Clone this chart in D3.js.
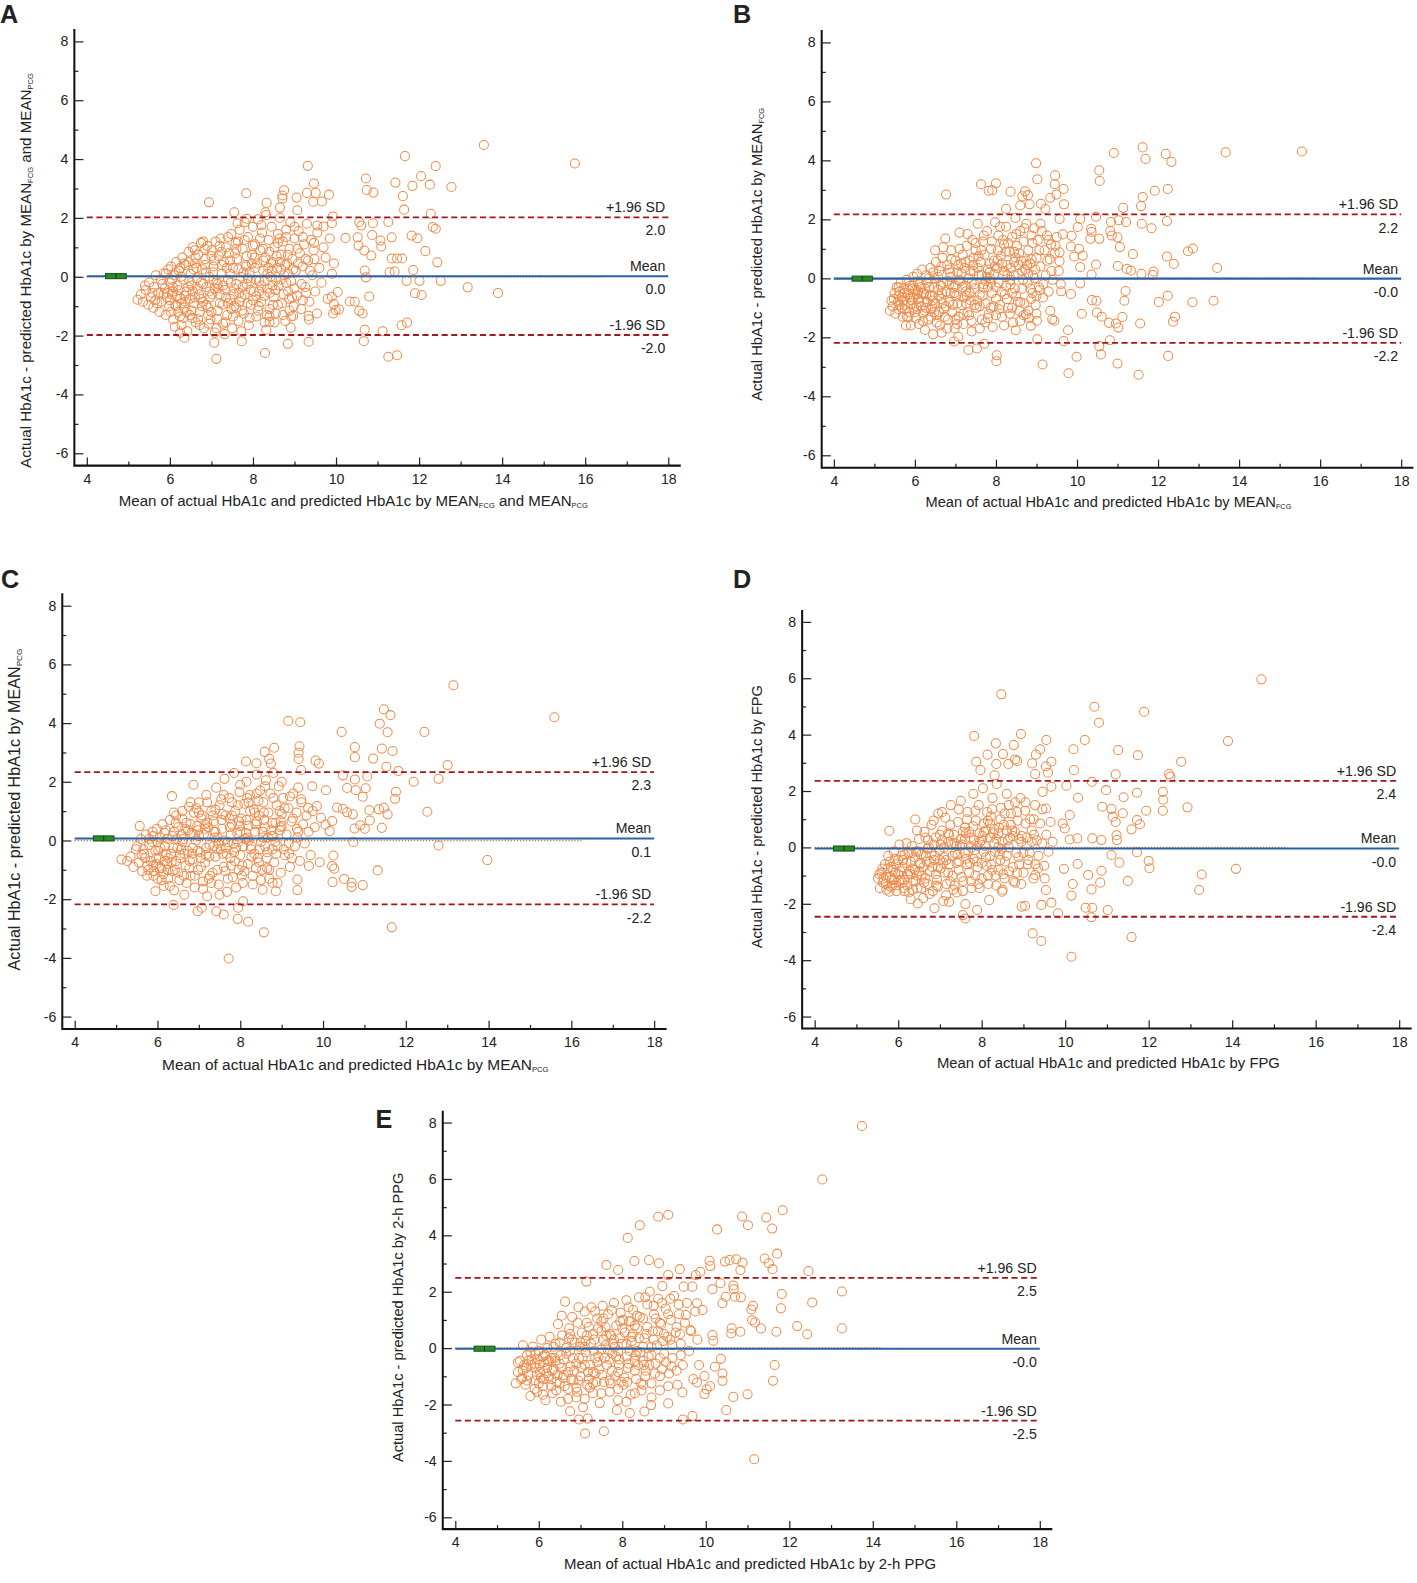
<!DOCTYPE html>
<html>
<head>
<meta charset="utf-8">
<script src="https://cdn.jsdelivr.net/npm/d3@7"></script>
<style>
  body { margin: 0; background: #fff; }
  text { font-family: 'Liberation Sans', Arial, sans-serif; fill: #222; }
</style>
</head>
<body>
<svg id="fig" width="1417" height="1583"></svg>
<script>
//shared axis ticks
const xTicks = [4, 6, 8, 10, 12, 14, 16, 18];
const xMinor = [5, 7, 9, 11, 13, 15, 17];
const yTicks = [-6, -4, -2, 0, 2, 4, 6, 8];
const yMinor = [-5, -3, -1, 1, 3, 5, 7];
const lineNames = ['+1.96 SD', 'Mean', '-1.96 SD'];

//panel A - MEAN FCG and MEAN PCG
const linesA = [2.02, 0.02, -1.98];
const labelsA = ['2.0', '0.0', '-2.0'];
const ciA = [-0.05, 0.09];
const ptsA = [
  [13.56,4.48],[11.66,4.10],[9.32,3.77],[12.40,3.76],[10.72,3.34],[12.05,3.42],[11.43,3.20],[11.84,3.09],[12.26,3.13],[12.78,3.05],
  [10.74,2.95],[10.90,2.86],[11.61,2.74],[9.47,3.17],[9.30,2.85],[9.51,2.85],[9.83,2.79],[9.45,2.55],[9.66,2.56],[8.75,2.94],
  [8.71,2.76],[8.71,2.66],[9.05,2.69],[7.84,2.84],[6.94,2.53],[11.64,2.28],[12.28,2.14],[12.33,1.69],[12.40,1.63],[9.07,2.26],
  [8.65,2.35],[8.33,2.51],[8.30,2.19],[7.55,2.19],[7.85,1.97],[7.63,1.82],[9.92,2.05],[9.90,1.82],[9.70,1.71],[9.55,1.74],
  [10.56,1.86],[10.61,1.74],[10.89,1.82],[11.26,1.86],[10.23,1.32],[10.52,1.34],[10.54,1.06],[10.87,1.42],[11.07,1.23],[11.09,1.03],
  [11.34,1.34],[11.82,1.40],[11.96,1.31],[12.15,0.87],[10.68,0.89],[10.85,0.72],[11.34,0.62],[11.47,0.62],[11.59,0.62],[12.44,0.49],
  [10.69,0.21],[10.72,-0.02],[11.29,0.15],[11.41,0.18],[11.86,0.23],[11.70,-0.14],[12.01,-0.14],[12.52,-0.14],[13.17,-0.36],[10.80,-0.67],
  [11.90,-0.56],[12.06,-0.62],[10.33,-0.84],[10.45,-0.85],[10.56,-1.16],[10.64,-1.25],[10.04,-0.52],[9.90,-0.68],[9.95,-0.93],[9.99,-1.13],
  [9.93,-1.25],[10.07,-1.11],[9.54,-1.25],[9.34,-1.33],[9.35,-1.45],[8.97,-1.33],[8.40,-1.34],[8.40,-1.54],[8.91,-1.73],[10.69,-1.80],
  [11.12,-1.85],[11.58,-1.65],[11.71,-1.56],[10.67,-2.19],[9.34,-2.21],[8.84,-2.28],[8.29,-2.59],[7.12,-2.79],[11.26,-2.72],[11.47,-2.67],
  [7.73,-2.19],[7.07,-2.24],[6.35,-2.07],[15.75,3.85],[13.9,-0.55],[6.25,-1.9],
  [5.22,-0.78],[5.3,-0.6],[5.35,-0.85],[5.42,-0.45],[5.48,-0.95],[5.5,-0.2],[5.55,-0.7],[5.6,-1.05],[5.62,-0.35],[5.66,0.05],
  [5.72,-0.55],[5.75,-1.2],[5.78,-0.1],[5.8,-0.85],[5.85,0.12],[5.88,-0.4],[5.9,-1.3],[5.93,-0.7],[5.96,0.25],[5.98,-1.0],[6.0,-0.2],
  [6.03,0.35],[6.05,-0.6],[6.08,-1.45],[6.1,0.05],[6.13,-0.95],[6.15,0.5],[6.18,-0.3],[6.2,-1.2],[6.22,0.2],[6.25,-0.75],
  [6.28,-1.65],[6.3,0.65],[6.33,-0.1],[6.35,-1.05],[6.38,0.4],[6.4,-0.5],[6.42,-1.85],[6.45,0.85],[6.48,-1.3],[6.5,0.1],
  [6.52,-0.3],[6.55,1.0],[6.58,-0.9],[6.6,0.45],[6.62,-1.55],[6.65,-0.05],[6.68,0.75],[6.7,-0.6],[6.72,-1.2],[6.75,1.15],
  [6.78,0.25],[6.8,-0.85],[6.82,-1.75],[6.85,0.6],[6.88,-0.35],[6.9,1.05],[6.92,-1.05],[6.95,0.0],[6.98,-1.45],[7.0,0.9],
  [7.02,-0.6],[7.05,0.35],[7.08,-1.9],[7.1,1.2],[7.12,-0.2],[7.15,-1.15],[7.18,0.7],[7.2,-0.9],[7.22,1.3],[7.25,0.1],
  [7.28,-1.6],[7.3,0.5],[7.32,-0.45],[7.35,1.0],[7.38,-1.3],[7.4,-0.1],[7.42,0.8],[7.45,-0.75],[7.48,1.45],[7.5,-1.75],
  [7.52,0.3],[7.55,-0.4],[7.58,1.15],[7.6,-1.05],[7.62,0.6],[7.65,-1.5],[7.68,1.6],[7.7,0.0],[7.72,-0.7],[7.75,0.95],
  [7.78,-1.25],[7.8,1.85],[7.82,0.4],[7.85,-0.25],[7.88,1.35],[7.9,-1.65],[7.92,0.15],[7.95,-0.95],[7.98,0.75],[8.0,1.7],
  [8.02,-0.5],[8.05,1.1],[8.08,-1.35],[8.1,0.45],[8.12,1.95],[8.15,-0.15],[8.18,0.9],[8.2,-0.85],[8.22,1.5],[8.25,0.2],
  [8.28,-1.55],[8.3,0.65],[8.32,2.1],[8.35,-0.4],[8.38,1.25],[8.4,-1.1],[8.42,0.0],[8.45,1.7],[8.48,0.5],[8.5,-0.7],
  [8.52,1.0],[8.55,-1.25],[8.58,0.3],[8.6,1.45],[8.62,-0.3],[8.65,2.0],[8.68,0.75],[8.7,-0.9],[8.72,1.2],[8.75,0.05],
  [8.78,-1.5],[8.8,1.6],[8.82,0.45],[8.85,-0.5],[8.88,0.95],[8.9,1.85],[8.92,-0.15],[8.95,0.6],[8.98,-1.0],[9.0,1.3],
  [9.03,0.2],[9.06,-0.65],[9.1,1.55],[9.13,0.8],[9.16,-1.1],[9.2,0.35],[9.23,1.1],[9.26,-0.35],[9.3,1.8],[9.33,0.55],
  [9.36,-0.85],[9.4,1.25],[9.43,0.05],[9.46,0.9],[9.5,-0.5],[9.55,1.5],[9.6,0.3],[9.65,-0.2],[9.7,1.0],[9.75,0.65],
  [9.8,-0.75],[9.85,1.3],[9.9,0.1],[9.95,0.45],
  [5.4,-0.3],[5.58,-0.55],[5.7,-0.9],[5.82,-0.25],[5.95,-0.55],[6.07,-0.35],[6.17,-0.65],[6.27,0.0],[6.37,-0.85],[6.47,-0.15],
  [6.57,0.25],[6.67,-0.4],[6.77,-1.0],[6.87,0.15],[6.97,-0.7],[7.07,0.55],[7.17,-0.4],[7.27,-0.95],[7.37,0.3],[7.47,-0.2],
  [7.57,0.8],[7.67,-0.55],[7.77,0.15],[7.87,-0.9],[7.97,0.45],[8.07,-0.1],[8.17,1.3],[8.27,-0.65],[8.37,0.3],[8.47,-0.3],
  [8.57,0.7],[8.67,-0.1],[8.77,0.4],[8.87,-0.75],[8.97,0.25],[9.07,0.95],[9.17,-0.25],[9.27,0.6],[9.37,0.2],[9.47,1.15],
  [6.12,-1.7],[6.32,-1.4],[6.52,-1.15],[6.72,-1.65],[6.92,-1.3],[7.12,-1.75],[7.32,-1.95],[7.52,-1.35],[7.72,-1.85],[7.92,-1.4],
  [8.12,-1.15],[8.32,-1.8],[8.52,-1.55],[8.72,-1.3],[8.92,-1.35],
  [6.6,0.9],[6.8,1.2],[7.0,0.7],[7.2,1.05],[7.4,1.35],[7.6,0.95],[7.8,1.25],[8.0,1.05],[8.2,1.75],[8.4,0.85],[8.6,1.15],[8.8,1.35],[9.0,1.7],[9.2,1.35],
  [5.9,0.1],[6.05,-0.1],[6.25,0.3],[6.45,0.5],[6.62,0.65],[6.85,0.4],[7.05,-0.1],[7.25,0.4],[7.45,0.55],[7.65,0.25],[7.85,0.7],[8.05,0.3],[8.25,0.55],[8.45,0.2],[8.65,0.5],[8.85,0.1],
  [6.0,-0.8],[6.2,-0.45],[6.4,-1.2],[6.6,-0.7],[6.8,-0.25],[7.0,-1.2],[7.2,-0.6],[7.4,-0.9],[7.6,-0.25],[7.8,-0.6],[8.0,-0.8],[8.2,-0.3],[8.4,-0.55],[8.6,-0.95],[8.8,-0.2],[9.0,-0.4],[9.2,-0.8],
  [5.65,-0.8],[5.85,-0.6],[6.15,-1.0],[6.35,-0.65],[6.55,-0.5],[6.75,-0.2],[6.95,-0.5],[7.15,-0.25],[7.35,-0.7],[7.55,-1.0],[7.75,-0.35],[7.95,-0.15],[8.15,-0.5],[8.35,0.1],[8.55,-0.1],
  [6.02,-1.2],[6.14,0.15],[6.24,-1.35],[6.34,0.45],[6.44,-0.35],[6.54,-1.4],[6.64,0.3],[6.74,-0.75],[6.84,0.95],[6.94,-1.6],
  [7.04,0.15],[7.14,-1.45],[7.24,0.85],[7.34,-1.55],[7.44,0.1],[7.54,-0.6],[7.64,1.2],[7.74,-1.15],[7.84,0.35],[7.94,-0.45],
  [8.04,0.65],[8.14,-1.0],[8.24,0.95],[8.34,-1.3],[8.44,0.45],[8.54,-0.45],[8.64,1.3],[8.74,-0.6],[8.84,0.75],[8.94,-0.7],
  [6.08,-0.5],[6.28,-0.9],[6.48,-0.75],[6.68,-1.45],[6.88,-0.95],[7.08,-0.4],[7.28,-0.3],[7.48,-1.1],[7.68,-0.85],[7.88,-0.05],
  [8.08,-0.65],[8.28,-0.15],[8.48,-0.95],[8.68,0.25],[8.88,-1.15],[9.08,0.45],[9.28,-0.55],[9.48,0.6]
];

//panel B - MEAN FCG
const linesB = [2.17, -0.01, -2.19];
const labelsB = ['2.2', '-0.0', '-2.2'];
const ciB = [-0.09, 0.07];
const ptsB = [
  [13.67,4.27],[11.62,4.44],[11.69,4.05],[10.91,4.25],[12.19,4.22],[12.33,3.95],[10.55,3.66],[10.56,3.30],[8.99,3.90],[9.02,3.36],
  [9.46,3.49],[9.45,3.19],[9.67,3.03],[7.63,3.19],[7.82,2.97],[7.91,2.99],[8.0,3.22],[8.36,2.94],[8.72,2.95],[8.79,2.82],
  [8.65,2.78],[6.77,2.84],[9.34,2.73],[9.49,2.84],[9.68,2.51],[9.11,2.53],[8.83,2.51],[8.60,2.47],[8.25,2.36],[9.22,2.35],
  [12.24,3.03],[11.92,2.97],[11.62,2.76],[11.58,2.45],[11.14,2.39],[10.47,2.09],[10.08,2.01],[9.57,2.01],[10.84,1.91],[11.03,1.97],
  [11.21,1.91],[12.22,1.94],[11.6,1.85],[11.84,1.70],[10.02,1.74],[10.35,1.68],[10.36,1.57],[10.82,1.60],[10.86,1.45],[11.0,1.39],
  [10.33,1.34],[10.55,1.34],[9.65,1.49],[9.87,1.44],[11.06,1.06],[9.85,1.08],[10.05,1.0],[10.14,0.77],[9.93,0.74],[9.57,0.88],
  [9.57,0.58],[11.38,0.82],[12.22,0.74],[12.39,0.49],[12.74,0.92],[12.86,1.01],[13.46,0.35],[11.01,0.42],[11.23,0.32],[11.33,0.26],
  [11.59,0.15],[11.89,0.23],[11.87,0.11],[10.47,0.47],[10.36,0.13],[10.08,0.38],[10.08,-0.17],[9.85,-0.53],[9.61,-0.44],[11.2,-0.43],
  [11.17,-0.76],[10.37,-0.74],[10.48,-0.76],[12.02,-0.8],[12.24,-0.59],[12.85,-0.81],[13.37,-0.76],[10.12,-1.20],[10.49,-1.16],[10.61,-1.30],
  [10.79,-1.51],[10.96,-1.53],[11.12,-1.31],[11.02,-1.67],[11.56,-1.53],[12.42,-1.30],[12.37,-1.47],[9.34,-1.10],[9.39,-1.39],[9.44,-1.44],
  [9.78,-1.76],[8.74,-1.22],[8.86,-1.61],[9.01,-1.44],[8.49,-1.76],[9.02,-2.07],[9.67,-2.13],[10.81,-2.1],[10.55,-2.3],[10.59,-2.58],
  [9.99,-2.66],[9.15,-2.92],[9.79,-3.22],[11.0,-2.89],[11.52,-3.27],[12.25,-2.63],[8.02,-2.61],[8.01,-2.81],[7.32,-2.43],[7.53,-2.38],
  [7.71,-2.22],[6.97,-2.14],[6.66,-1.84],[7.07,-1.98],[15.55,4.3],
  [5.38,-1.1],[5.42,-0.75],[5.45,-0.95],[5.5,-0.5],[5.52,-1.2],[5.55,-0.3],[5.58,-0.8],[5.6,-1.05],[5.62,-0.45],[5.65,-0.15],
  [5.68,-0.65],[5.7,-1.3],[5.72,-0.35],[5.75,-0.9],[5.78,-1.6],[5.8,-0.05],[5.83,-0.55],[5.86,-1.15],[5.88,-0.25],[5.9,-1.6],
  [5.93,-0.75],[5.96,0.05],[5.98,-1.0],[6.0,-0.4],[6.03,-1.35],[6.05,0.15],[6.08,-0.7],[6.1,-1.55],[6.12,-0.2],[6.15,-0.95],
  [6.18,0.3],[6.2,-1.2],[6.22,-0.5],[6.25,-1.75],[6.28,0.1],[6.3,-0.8],[6.33,-1.4],[6.35,-0.3],[6.38,0.35],[6.4,-1.05],
  [6.43,-0.6],[6.45,-1.9],[6.48,0.0],[6.5,-0.85],[6.52,0.55],[6.55,-1.25],[6.58,-0.4],[6.6,0.25],[6.62,-1.6],[6.65,-0.7],
  [6.68,0.7],[6.7,-0.15],[6.72,-1.05],[6.75,1.35],[6.78,-0.45],[6.8,0.45],[6.82,-1.4],[6.85,-0.8],[6.88,0.05],[6.9,0.95],
  [6.92,-1.15],[6.95,-0.3],[6.98,-1.7],[7.0,0.6],[7.02,-0.6],[7.05,0.2],[7.08,-1.3],[7.1,1.55],[7.12,-0.1],[7.15,-0.9],
  [7.18,0.8],[7.2,-1.55],[7.22,0.35],[7.25,-0.45],[7.28,1.1],[7.3,-1.15],[7.32,0.0],[7.35,0.6],[7.38,-0.75],[7.4,-1.8],
  [7.42,1.3],[7.45,0.25],[7.48,-0.35],[7.5,0.95],[7.52,-1.0],[7.55,1.85],[7.58,0.1],[7.6,-0.55],[7.62,0.55],[7.65,-1.4],
  [7.68,1.25],[7.7,-0.2],[7.72,0.8],[7.75,-0.85],[7.78,1.6],[7.8,0.3],[7.82,-1.2],[7.85,0.0],[7.88,1.0],[7.9,-0.5],
  [7.92,-1.65],[7.95,0.6],[7.98,1.9],[8.0,-0.3],[8.03,0.35],[8.06,1.45],[8.1,-0.9],[8.12,0.75],[8.15,-1.3],[8.18,0.1],
  [8.2,1.15],[8.22,-0.55],[8.25,1.75],[8.28,0.45],[8.3,-1.0],[8.33,0.9],[8.36,-0.2],[8.4,1.4],[8.42,-1.5],[8.45,0.55],
  [8.48,2.05],[8.5,-0.6],[8.52,1.1],[8.55,0.15],[8.58,-1.1],[8.6,1.6],[8.62,0.6],[8.65,-0.35],[8.68,1.25],[8.7,-0.85],
  [8.72,0.3],[8.75,1.85],[8.78,-0.15],[8.8,0.95],[8.82,-1.35],[8.85,0.5],[8.88,1.45],[8.9,-0.5],[8.92,0.1],[8.95,1.7],
  [8.98,-0.9],[9.0,0.7],[9.03,1.3],[9.06,-0.3],[9.1,0.4],[9.13,1.6],[9.16,-0.65],[9.2,0.95],[9.23,0.1],[9.26,1.45],
  [9.3,-0.45],[9.33,0.65],[9.36,1.15],[9.4,-0.05],[9.45,0.85],[9.5,1.4],[9.55,0.25],[9.6,-0.2],
  [5.48,-0.7],[5.6,-0.3],[5.72,-0.75],[5.85,-0.4],[5.97,-0.65],[6.07,-0.1],[6.17,-0.5],[6.27,-1.0],[6.37,-0.6],[6.47,-0.3],
  [6.57,0.05],[6.67,-0.5],[6.77,-0.95],[6.87,0.2],[6.97,-0.5],[7.07,0.45],[7.17,-0.3],[7.27,-0.85],[7.37,0.25],[7.47,-0.2],
  [7.57,0.75],[7.67,-0.6],[7.77,0.05],[7.87,-1.0],[7.97,0.4],[8.07,-0.15],[8.17,1.3],[8.27,-0.7],[8.37,0.35],[8.47,-0.35],
  [8.57,0.85],[8.67,-0.05],[8.77,0.45],[8.87,-0.7],[8.97,0.3],[9.07,0.95],[9.17,-0.2],[9.27,0.6],[9.37,0.25],[9.47,1.1],
  [5.8,-1.3],[6.0,-1.15],[6.2,-1.45],[6.4,-1.3],[6.6,-1.15],[6.8,-1.7],[7.0,-1.4],[7.2,-1.2],[7.4,-1.45],[7.6,-1.7],[7.8,-1.35],[8.0,-1.25],[8.2,-1.6],[8.4,-1.0],[8.6,-1.45],[8.8,-1.1],[9.0,-1.2],
  [6.5,0.95],[6.7,1.05],[6.9,0.65],[7.1,1.0],[7.3,1.5],[7.5,1.2],[7.7,1.45],[7.9,1.25],[8.1,1.75],[8.3,1.2],[8.5,1.5],[8.7,1.7],[8.9,1.2],[9.1,1.85],[9.3,1.3],
  [5.95,-0.25],[6.1,-0.8],[6.3,-0.15],[6.45,0.2],[6.65,0.4],[6.85,-0.2],[7.05,-0.85],[7.25,0.55],[7.45,0.7],[7.65,0.1],[7.85,0.5],[8.05,0.95],[8.25,-0.25],[8.45,0.9],[8.65,0.25],[8.85,-0.35],
  [5.6,-0.6],[5.75,-1.05],[5.9,-0.85],[6.05,-0.55],[6.25,-0.35],[6.42,-0.95],[6.6,-0.6],[6.8,-0.1],[7.0,-0.25],[7.2,-0.65],[7.4,-0.15],[7.6,-0.95],[7.8,-0.3],[8.0,-0.7],[8.2,0.25],[8.4,-0.5],[8.6,-0.8],[8.8,0.15],[9.0,-0.6],
  [7.15,0.15],[7.35,-0.5],[7.55,0.35],[7.75,-0.1],[7.95,0.15],[8.15,0.5],[8.35,-0.05],[8.55,0.45],[8.75,0.6],[8.95,0.0],
  [5.62,-0.9],[5.74,-0.5],[5.84,-1.3],[5.94,-0.35],[6.04,-0.95],[6.14,-0.3],[6.24,-1.1],[6.34,0.0],[6.44,-0.75],[6.54,-1.5],
  [6.64,-0.25],[6.74,-1.3],[6.84,0.3],[6.94,-0.9],[7.04,-1.55],[7.14,0.5],[7.24,-0.25],[7.34,-1.25],[7.44,0.45],[7.54,-0.75],
  [7.64,0.95],[7.74,-1.5],[7.84,0.2],[7.94,-0.95],[8.04,0.6],[8.14,-0.45],[8.24,0.9],[8.34,-1.2],[8.44,0.1],[8.54,-0.8],
  [5.68,-1.0],[5.88,-0.65],[6.08,-0.45],[6.28,-0.55],[6.48,-1.15],[6.68,-0.85],[6.88,-0.5],[7.08,-0.05],[7.28,-0.6],[7.48,-0.9],
  [7.68,-0.3],[7.88,-0.15],[8.08,-1.05],[8.28,0.1],[8.48,0.7],[8.68,-1.25],[8.88,0.65],[9.08,-0.4]
];

//panel C - MEAN PCG
const linesC = [2.33, 0.07, -2.18];
const labelsC = ['2.3', '0.1', '-2.2'];
const ciC = [-0.01, 0.15];
const ptsC = [
  [13.15,5.29],[15.59,4.2],[11.47,4.47],[11.63,4.27],[11.37,3.98],[11.56,3.69],[11.42,3.13],[11.68,3.05],[11.53,2.51],[11.82,2.37],
  [9.16,4.07],[9.45,4.03],[10.45,3.70],[12.45,3.70],[10.77,3.18],[10.77,2.84],[11.21,2.79],[13.01,2.57],[9.43,3.21],[9.41,2.99],
  [9.41,2.78],[8.82,3.16],[8.59,3.02],[8.70,2.78],[8.74,2.62],[9.82,2.72],[9.90,2.62],[8.39,2.63],[8.14,2.69],[9.47,2.40],
  [12.19,2.0],[12.79,2.1],[10.48,2.22],[10.77,2.08],[11.07,2.18],[10.58,1.79],[10.79,1.71],[10.96,1.49],[11.03,1.78],[11.76,1.66],
  [11.74,1.42],[12.52,0.98],[10.34,1.12],[10.48,1.08],[10.58,0.96],[10.72,0.89],[11.12,1.03],[11.35,1.06],[11.47,1.11],[11.56,0.89],
  [11.13,0.68],[10.90,0.52],[10.76,0.41],[11.01,0.40],[11.42,0.43],[12.79,-0.17],[13.97,-0.67],[10.73,-0.05],[11.32,-1.02],[10.23,-1.42],
  [10.51,-1.31],[10.69,-1.44],[10.69,-1.58],[10.96,-1.52],[11.66,-2.96],[10.25,-0.51],[10.22,-0.87],[10.27,-0.96],[9.92,-0.74],[9.66,-0.87],
  [9.38,-1.69],[9.38,-1.33],[8.86,-1.73],[8.54,-1.68],[8.78,-1.44],[8.57,-3.13],[8.19,-2.77],[7.94,-2.67],[7.72,-4.02],[7.6,-2.52],
  [7.42,-2.41],[7.95,-2.29],[8.07,-2.07],[6.97,-2.41],[7.07,-2.29],[6.39,-2.2],[5.95,-1.73],[6.35,1.51],[6.87,1.90],[5.57,0.49],
  [5.13,-0.65],[5.27,-0.7],[10.07,1.71],[9.74,1.85],[9.85,1.17],[9.64,1.11],[9.95,0.77],[10.22,0.66],[10.06,0.54],[10.16,0.32],
  [5.35,-0.55],[5.42,-0.9],[5.48,-0.3],[5.55,-0.75],[5.6,0.05],[5.63,-1.05],[5.68,-0.45],[5.72,0.2],[5.75,-1.2],[5.8,-0.15],
  [5.84,-0.7],[5.88,0.3],[5.92,-1.05],[5.95,-0.35],[5.98,0.4],[6.0,-1.3],[6.03,-0.6],[6.06,0.1],[6.1,-0.95],[6.12,0.55],
  [6.15,-1.55],[6.18,-0.2],[6.2,0.35],[6.23,-0.8],[6.26,-1.3],[6.3,0.7],[6.33,-0.45],[6.36,0.15],[6.4,-1.7],[6.42,-1.0],
  [6.45,0.85],[6.48,-0.25],[6.5,0.45],[6.53,-1.35],[6.56,-0.6],[6.6,1.0],[6.62,0.05],[6.65,-1.85],[6.68,-0.85],[6.7,0.6],
  [6.73,-0.35],[6.76,1.15],[6.8,-1.2],[6.82,0.25],[6.85,-0.65],[6.88,0.95],[6.9,-1.6],[6.93,0.0],[6.96,0.5],[6.98,-1.0],
  [7.0,1.3],[7.03,-0.4],[7.06,0.75],[7.1,-1.4],[7.12,0.2],[7.15,-0.75],[7.18,1.55],[7.2,-1.9],[7.23,0.45],[7.26,-0.15],
  [7.3,1.0],[7.33,-1.1],[7.36,0.65],[7.4,-0.55],[7.42,1.8],[7.45,0.1],[7.48,-1.5],[7.5,1.2],[7.53,-0.3],[7.56,0.4],
  [7.6,-0.9],[7.62,2.1],[7.65,0.85],[7.68,-1.75],[7.7,-0.05],[7.73,1.45],[7.76,-0.6],[7.8,0.55],[7.82,-1.25],[7.85,2.3],
  [7.88,1.0],[7.9,-0.25],[7.93,0.25],[7.96,-1.0],[7.98,1.65],[8.0,-0.5],[8.03,0.75],[8.06,-1.45],[8.1,1.25],[8.12,0.05],
  [8.15,2.0],[8.18,-0.8],[8.2,0.5],[8.23,1.55],[8.26,-0.2],[8.3,-1.2],[8.33,1.05],[8.36,0.3],[8.4,2.25],[8.42,-0.6],
  [8.45,0.85],[8.48,1.7],[8.5,-0.05],[8.53,-1.0],[8.56,1.3],[8.6,0.45],[8.62,2.05],[8.65,-0.4],[8.68,0.95],[8.7,-1.3],
  [8.73,1.6],[8.76,0.15],[8.8,2.3],[8.82,-0.75],[8.85,0.6],[8.88,1.2],[8.9,-0.2],[8.93,1.85],[8.96,0.35],[8.98,-1.1],
  [9.0,0.9],[9.04,1.45],[9.08,-0.5],[9.12,0.2],[9.16,1.1],[9.2,-0.9],[9.24,0.65],[9.28,1.6],[9.32,-0.2],[9.36,0.95],
  [9.4,0.3],[9.44,-0.7],[9.48,1.3],[9.52,0.55],[9.56,-0.1],[9.6,0.85],[9.65,0.3],[9.7,-0.5],[9.75,1.0],[9.8,0.45],
  [5.5,-0.2],[5.62,-0.5],[5.75,-0.85],[5.87,-0.05],[5.97,-0.6],[6.07,-0.25],[6.17,0.25],[6.27,-0.6],[6.37,-1.05],[6.47,0.05],
  [6.57,-0.3],[6.67,0.4],[6.77,-0.95],[6.87,0.2],[6.97,-0.35],[7.07,0.85],[7.17,-0.5],[7.27,-1.2],[7.37,0.3],[7.47,-0.1],
  [7.57,0.9],[7.67,-0.45],[7.77,0.2],[7.87,-0.7],[7.97,0.65],[8.07,-0.2],[8.17,1.45],[8.27,-0.55],[8.37,0.55],[8.47,-0.3],
  [8.57,0.95],[8.67,0.1],[8.77,0.6],[8.87,-0.45],[8.97,0.45],[9.07,1.1],[9.17,-0.1],[9.27,0.75],[9.37,0.4],[9.47,1.4],
  [5.9,-1.2],[6.1,-1.35],[6.3,-1.55],[6.5,-1.1],[6.7,-1.45],[6.9,-1.2],[7.1,-1.65],[7.3,-1.45],[7.5,-1.85],[7.7,-1.3],[7.9,-1.6],[8.1,-1.05],[8.3,-1.5],[8.5,-1.35],[8.7,-1.0],[8.9,-1.45],
  [6.4,0.95],[6.6,0.75],[6.8,1.3],[7.0,0.95],[7.2,1.3],[7.4,1.05],[7.6,1.55],[7.8,1.3],[8.0,1.9],[8.2,1.3],[8.4,1.6],[8.6,1.85],[8.8,1.45],[9.0,2.0],[9.2,1.5],[9.4,1.8],
  [5.8,0.05],[6.0,-0.05],[6.2,-0.45],[6.4,0.3],[6.6,-0.05],[6.8,0.55],[7.0,0.15],[7.2,0.6],[7.4,0.3],[7.6,0.0],[7.8,0.85],[8.0,0.3],[8.2,0.0],[8.4,0.65],[8.6,-0.2],[8.8,0.15],[9.0,0.5],
  [5.7,-0.6],[5.9,-0.85],[6.05,-0.95],[6.25,-1.0],[6.45,-0.7],[6.65,-0.45],[6.85,-0.25],[7.05,-0.9],[7.25,-0.55],[7.45,-1.0],[7.65,-0.25],[7.85,-0.4],[8.05,-0.85],[8.25,-0.3],[8.45,-0.75],[8.65,-0.95],[8.85,-0.05],[9.05,-0.3],[9.25,-0.6],
  [7.15,0.4],[7.35,-0.2],[7.55,0.7],[7.75,0.45],[7.95,-0.05],[8.15,0.7],[8.35,0.95],[8.55,0.1],[8.75,0.35],[8.95,1.0],
  [5.66,-0.3],[5.78,-1.0],[5.9,0.15],[6.02,-0.35],[6.14,-1.15],[6.24,0.05],[6.34,-0.75],[6.44,0.6],[6.54,-0.5],[6.64,-1.2],
  [6.74,0.35],[6.84,-0.45],[6.94,1.1],[7.04,-0.6],[7.14,0.55],[7.24,-1.3],[7.34,0.85],[7.44,-0.3],[7.54,1.4],[7.64,-1.05],
  [7.74,0.75],[7.84,-0.1],[7.94,1.2],[8.04,-1.2],[8.14,0.25],[8.24,1.0],[8.34,-0.45],[8.44,1.35],[8.54,0.3],[8.64,-0.6],
  [5.98,-0.8],[6.18,-0.7],[6.38,-0.25],[6.58,0.2],[6.78,-0.7],[6.98,0.35],[7.18,-0.25],[7.38,0.1],[7.58,-0.45],[7.78,-0.85],
  [7.98,0.5],[8.18,0.1],[8.38,-0.95],[8.58,0.7],[8.78,-0.3],[8.98,0.65],[9.18,-0.45],[9.38,0.1]
];

//panel D - FPG
const linesD = [2.36, -0.04, -2.46];
const labelsD = ['2.4', '-0.0', '-2.4'];
const ciD = [-0.13, 0.05];
const ptsD = [
  [14.70,5.96],[8.47,5.43],[10.70,4.99],[11.89,4.81],[10.81,4.42],[13.90,3.77],[7.82,3.95],[8.94,4.02],[8.34,3.69],[8.77,3.63],
  [9.55,3.81],[10.47,3.81],[10.20,3.48],[11.27,3.45],[11.74,3.27],[12.78,3.04],[8.51,3.31],[8.14,3.29],[9.30,3.29],[9.40,3.48],
  [8.80,3.12],[8.85,3.07],[7.87,3.04],[8.35,2.96],[8.64,2.96],[9.67,3.04],[9.21,2.98],[9.54,2.88],[7.97,2.74],[9.59,2.65],
  [10.21,2.74],[11.21,2.59],[12.49,2.60],[12.52,2.51],[8.31,2.56],[9.28,2.60],[10.64,2.33],[10.03,2.19],[9.67,2.15],[10.98,2.03],
  [12.34,1.97],[10.31,1.76],[11.40,1.78],[11.72,1.94],[12.35,1.69],[12.93,1.42],[11.94,1.30],[12.34,1.30],[10.89,1.44],[11.11,1.36],
  [11.38,1.21],[11.14,1.09],[11.21,0.90],[11.72,0.97],[11.79,0.82],[11.59,0.64],[11.23,0.43],[11.24,0.26],[10.87,0.26],[10.65,0.32],
  [10.29,0.32],[10.11,0.28],[9.94,0.85],[9.99,0.67],[10.11,1.15],[9.46,1.97],[9.54,1.38],[11.72,-0.17],[11.11,-0.27],[11.30,-0.54],
  [12.0,-0.48],[12.02,-0.74],[14.09,-0.76],[13.27,-0.96],[13.21,-1.51],[10.87,-0.83],[10.55,-0.98],[10.30,-0.59],[9.97,-0.76],[10.18,-1.30],
  [10.15,-1.71],[10.63,-1.49],[10.84,-1.25],[11.50,-1.19],[10.49,-2.14],[10.65,-2.14],[10.63,-2.48],[11.02,-2.22],[11.59,-3.18],[10.15,-3.88],
  [9.43,-3.32],[9.22,-3.05],[9.43,-2.04],[9.67,-1.96],[9.83,-2.34],[8.96,-2.10],[9.04,-2.08],[9.54,-1.51],[9.51,-1.10],[9.28,-0.98],
  [8.80,-1.25],[8.49,-1.57],[8.18,-1.87],[7.89,-2.22],[7.61,-2.52],[7.55,-2.40],[7.61,-2.01],[7.22,-1.93],[6.87,-2.16],[6.47,-1.99],
  [6.30,-1.84],[5.79,0.59],[6.41,0.99],[5.79,-1.57],
  [5.52,-1.1],[5.56,-1.45],[5.6,-0.9],[5.64,-1.25],[5.68,-0.6],[5.72,-1.5],[5.76,-0.3],[5.8,-1.05],[5.83,-0.7],[5.86,-1.35],
  [5.9,-0.15],[5.93,-0.9],[5.96,-1.55],[6.0,-0.45],[6.03,0.1],[6.06,-1.15],[6.1,-0.7],[6.13,-1.45],[6.16,-0.25],[6.2,0.15],
  [6.23,-0.95],[6.26,-1.6],[6.3,-0.5],[6.33,0.05],[6.36,-1.2],[6.4,-0.8],[6.43,-0.15],[6.46,-1.45],[6.5,0.3],[6.53,-0.6],
  [6.56,-1.0],[6.6,-1.8],[6.63,0.55],[6.66,-0.3],[6.7,-1.3],[6.73,0.0],[6.76,-0.85],[6.8,0.8],[6.83,-1.55],[6.86,-0.45],
  [6.9,0.35],[6.93,-1.15],[6.96,1.2],[6.99,-0.1],[7.02,-0.75],[7.05,0.6],[7.08,-1.9],[7.1,-0.35],[7.13,1.05],[7.16,-1.3],
  [7.2,0.2],[7.23,-0.6],[7.26,1.5],[7.3,-1.0],[7.33,0.45],[7.36,-0.2],[7.4,-1.6],[7.43,0.9],[7.46,-0.5],[7.5,1.65],
  [7.53,0.1],[7.56,-1.2],[7.6,0.7],[7.63,-0.4],[7.66,1.25],[7.7,-0.9],[7.73,0.35],[7.76,-1.45],[7.8,1.9],[7.83,-0.1],
  [7.86,0.95],[7.9,-0.7],[7.93,1.5],[7.96,0.2],[8.0,-1.1],[8.03,2.1],[8.06,0.55],[8.1,-0.35],[8.13,1.25],[8.16,-1.3],
  [8.2,0.85],[8.23,-0.6],[8.26,1.75],[8.3,0.15],[8.33,-1.0],[8.36,2.25],[8.4,0.5],[8.43,-0.25],[8.46,1.4],[8.5,-1.5],
  [8.53,0.8],[8.56,-0.5],[8.6,1.9],[8.63,0.25],[8.66,-0.85],[8.7,1.2],[8.73,0.6],[8.76,-1.2],[8.8,1.6],[8.83,-0.2],
  [8.86,0.95],[8.9,-0.6],[8.93,1.75],[8.96,0.4],[9.0,-0.9],[9.04,1.3],[9.08,0.05],[9.12,-0.45],[9.16,1.0],[9.2,0.6],
  [9.24,-1.1],[9.28,1.5],[9.32,0.25],[9.36,-0.3],[9.4,0.85],[9.45,1.35],[9.5,-0.65],[9.55,0.45],[9.6,-0.15],[9.65,0.9],
  [9.7,0.2],
  [5.55,-0.95],[5.65,-1.1],[5.75,-0.75],[5.85,-1.15],[5.95,-0.6],[6.05,-0.85],[6.15,-1.15],[6.25,-0.2],[6.35,-0.75],[6.45,-1.0],
  [6.55,-0.25],[6.65,-1.1],[6.75,-0.5],[6.85,0.1],[6.95,-0.7],[7.05,0.25],[7.15,-0.45],[7.25,-1.2],[7.35,0.15],[7.45,-0.8],
  [7.55,0.55],[7.65,-0.6],[7.75,0.0],[7.85,-1.0],[7.95,0.5],[8.05,-0.15],[8.15,0.95],[8.25,-0.8],[8.35,0.3],[8.45,-0.45],
  [8.55,1.2],[8.65,0.0],[8.75,0.4],[8.85,-0.9],[8.95,0.2],[9.05,0.85],[9.15,-0.2],[9.25,0.45],[9.35,-0.75],[9.45,0.15],
  [5.95,-1.35],[6.15,-1.55],[6.35,-1.5],[6.55,-1.45],[6.75,-1.65],[6.95,-1.4],[7.15,-1.7],[7.35,-1.35],[7.55,-1.55],[7.75,-1.2],[7.95,-1.45],[8.15,-1.0],[8.35,-1.35],[8.55,-1.1],[8.75,-0.7],[8.95,-1.3],
  [6.45,0.6],[6.65,0.35],[6.85,0.95],[7.05,1.25],[7.25,0.8],[7.45,1.35],[7.65,1.0],[7.85,1.3],[8.05,0.85],[8.25,1.35],[8.45,1.0],[8.65,1.5],[8.85,1.25],[9.05,1.6],[9.25,1.0],
  [5.8,-0.5],[6.0,-0.95],[6.2,-0.55],[6.4,-0.35],[6.6,-0.7],[6.8,-0.2],[7.0,-0.45],[7.2,-0.9],[7.4,-0.55],[7.6,-0.2],[7.8,-0.4],[8.0,0.25],[8.2,-0.3],[8.4,0.0],[8.6,-0.3],[8.8,0.55],[9.0,-0.2],[9.2,0.2],
  [5.7,-1.3],[5.9,-1.15],[6.1,-1.25],[6.3,-0.95],[6.5,-0.85],[6.7,-0.05],[6.9,-0.95],[7.1,0.0],[7.3,-0.3],[7.5,0.3],[7.7,0.55],[7.9,0.05],[8.1,0.6],[8.3,0.65],[8.5,0.2],[8.7,0.8],[8.9,0.3],[9.1,-0.6],
  [7.0,0.45],[7.2,0.5],[7.4,0.05],[7.6,0.3],[7.8,0.75],[8.0,-0.55],[8.2,0.35],[8.4,-0.8],[8.6,0.6],
  [5.62,-0.75],[5.72,-1.05],[5.82,-1.4],[5.92,-0.4],[6.02,-1.2],[6.12,-0.45],[6.22,-1.35],[6.32,-0.2],[6.42,-1.2],[6.52,-0.55],
  [6.62,-1.25],[6.72,0.25],[6.82,-0.7],[6.92,-1.35],[7.02,0.1],[7.12,-0.9],[7.22,0.45],[7.32,-1.5],[7.42,-0.25],[7.52,-1.05],
  [7.62,0.5],[7.72,-0.55],[7.82,0.25],[7.92,-1.3],[8.02,0.4],[8.12,-0.65],[8.22,1.1],[8.32,-0.15],[8.42,0.7],[8.52,-0.95],
  [5.88,-0.8],[6.08,-0.3],[6.28,-0.85],[6.48,-0.15],[6.68,-0.5],[6.88,-0.3],[7.08,-0.55],[7.28,0.1],[7.48,0.05],[7.68,-0.15],
  [7.88,-0.5],[8.08,0.05],[8.28,0.5],[8.48,-0.05],[8.68,0.35],[8.88,-0.35],[9.08,0.35],[9.28,-0.6]
];

//panel E - 2-h PPG
const linesE = [2.49, -0.02, -2.57];
const labelsE = ['2.5', '-0.0', '-2.5'];
const ciE = [-0.11, 0.07];
const ptsE = [
  [13.74,7.88],[12.79,5.98],[11.84,4.89],[11.45,4.63],[10.87,4.67],[11.01,4.36],[11.59,4.24],[10.27,4.21],[9.10,4.73],[8.86,4.66],
  [8.42,4.36],[8.13,3.91],[11.71,3.35],[11.41,3.18],[11.51,3.01],[11.60,2.80],[10.88,3.03],[10.83,2.77],[10.73,3.15],[10.57,3.12],
  [10.46,3.07],[10.09,3.10],[10.11,2.91],[12.46,2.73],[13.26,2.01],[12.55,1.62],[11.82,1.92],[11.80,1.41],[11.13,1.50],[11.09,1.37],
  [11.11,0.99],[11.18,0.91],[11.32,0.70],[10.83,0.58],[10.62,0.70],[10.61,0.52],[11.69,0.58],[12.19,0.78],[12.43,0.49],[13.26,0.70],
  [11.65,-0.60],[11.61,-1.16],[11.0,-1.64],[10.66,-1.73],[10.49,-2.20],[11.16,-3.94],[9.68,-2.41],[9.45,-2.53],[9.97,-1.63],[10.02,-1.46],
  [10.10,-1.35],[10.40,-1.16],[10.40,-0.90],[10.22,-0.66],[10.36,-0.38],[9.84,-0.60],[9.97,-0.99],[9.79,-1.22],[9.44,-1.57],[9.10,-1.96],
  [8.69,-2.02],[8.53,-2.25],[8.18,-2.30],[7.87,-2.20],[7.56,-2.95],[7.11,-3.03],[7.17,-2.50],[6.75,-2.24],[6.96,-2.53],[10.16,0.46],
  [10.18,0.26],[10.35,2.30],[10.40,1.59],[10.16,2.09],[10.48,1.82],[10.70,1.82],[10.84,1.80],[10.67,2.09],[10.66,2.22],[9.87,2.71],
  [9.76,2.59],[9.38,2.80],[9.68,2.18],[9.47,2.18],[9.10,2.59],[8.88,3.01],[8.64,3.12],[8.29,3.09],[7.90,2.77],[7.62,2.95],
  [7.14,2.36],[9.79,1.59],[9.92,1.35],[9.52,1.17],[9.63,0.64],
  [5.45,-1.25],[5.5,-0.85],[5.55,-0.45],[5.58,-1.1],[5.62,0.1],[5.65,-0.6],[5.68,-1.3],[5.72,-0.25],[5.75,-0.95],[5.8,-1.7],
  [5.83,-0.4],[5.86,0.05],[5.9,-1.15],[5.93,-0.7],[5.96,-1.55],[6.0,-0.1],[6.03,-0.85],[6.06,0.3],[6.1,-1.35],[6.13,-0.5],
  [6.16,-1.85],[6.2,0.0],[6.23,-1.0],[6.26,0.4],[6.3,-0.35],[6.33,-1.6],[6.36,-0.75],[6.4,0.15],[6.43,-1.2],[6.46,0.85],
  [6.5,-0.55],[6.53,-1.9],[6.56,0.45],[6.6,-0.95],[6.63,1.65],[6.66,-0.2],[6.7,-1.45],[6.73,0.7],[6.76,-0.65],[6.8,1.1],
  [6.83,-1.15],[6.86,0.2],[6.9,-1.75],[6.93,0.9],[6.96,-0.35],[7.0,-1.0],[7.03,0.55],[7.06,-2.1],[7.1,1.3],[7.13,-0.15],
  [7.16,-1.3],[7.2,0.75],[7.23,-0.6],[7.26,1.45],[7.3,-1.6],[7.33,0.3],[7.36,-0.9],[7.4,1.05],[7.43,-0.3],[7.46,-1.95],
  [7.5,0.6],[7.53,1.5],[7.56,-1.2],[7.6,0.1],[7.63,-0.6],[7.66,1.2],[7.7,-1.55],[7.73,0.45],[7.76,-0.2],[7.8,1.6],
  [7.83,-1.0],[7.86,0.8],[7.9,-1.85],[7.93,-0.4],[7.96,1.25],[8.0,0.15],[8.03,-1.3],[8.06,0.55],[8.1,1.7],[8.13,-0.7],
  [8.16,0.95],[8.2,-1.65],[8.23,0.25],[8.26,1.35],[8.3,-0.45],[8.33,-1.1],[8.36,0.7],[8.4,1.8],[8.43,-0.15],[8.46,-1.5],
  [8.5,1.05],[8.53,0.35],[8.56,-0.8],[8.6,1.55],[8.63,-0.3],[8.66,2.0],[8.7,-1.25],[8.73,0.6],[8.76,1.2],[8.8,-0.55],
  [8.83,0.1],[8.86,1.75],[8.9,-1.0],[8.93,0.85],[8.96,2.2],[9.0,-0.2],[9.04,1.4],[9.08,0.4],[9.12,-0.9],[9.16,1.0],
  [9.2,-0.35],[9.24,1.85],[9.28,0.55],[9.32,-1.3],[9.36,1.2],[9.4,0.15],[9.45,-0.6],[9.5,0.9],[9.55,1.6],[9.6,-0.1],
  [9.65,0.6],[9.7,-1.1],[9.75,1.3],[9.8,0.3],
  [5.5,-0.5],[5.6,-1.05],[5.7,-0.7],[5.8,-0.15],[5.9,-0.55],[6.0,-1.25],[6.1,-0.3],[6.2,-0.7],[6.3,-1.1],[6.4,-0.45],
  [6.5,0.2],[6.6,-0.4],[6.7,-0.85],[6.8,0.3],[6.9,-0.55],[7.0,0.2],[7.1,-0.6],[7.2,-1.1],[7.3,0.5],[7.4,-0.5],
  [7.5,-0.05],[7.6,0.75],[7.7,-0.4],[7.8,0.3],[7.9,-0.85],[8.0,0.7],[8.1,-0.3],[8.2,0.95],[8.3,-0.8],[8.4,0.35],
  [8.5,-0.45],[8.6,0.75],[8.7,0.05],[8.8,1.05],[8.9,-0.35],[9.0,0.5],[9.1,1.2],[9.2,0.1],[9.3,0.75],[9.4,-0.25],
  [5.9,-1.45],[6.1,-1.65],[6.3,-1.35],[6.5,-1.25],[6.7,-1.8],[6.9,-1.4],[7.1,-1.8],[7.3,-1.25],[7.5,-1.6],[7.7,-1.15],[7.9,-1.45],[8.1,-1.9],[8.3,-1.6],[8.5,-1.3],[8.7,-1.75],[8.9,-1.5],[9.1,-1.35],[9.3,-0.8],
  [6.55,1.15],[6.75,0.5],[6.95,1.45],[7.15,0.9],[7.35,1.3],[7.55,1.05],[7.75,1.35],[7.95,0.95],[8.15,1.45],[8.35,1.15],[8.55,1.8],[8.75,1.5],[8.95,1.6],[9.15,1.75],[9.35,1.55],
  [5.75,-0.45],[5.95,-0.95],[6.15,-0.25],[6.35,0.05],[6.55,-0.7],[6.75,-0.1],[6.95,-1.15],[7.15,0.45],[7.35,-0.35],[7.55,0.3],[7.75,-0.8],[7.95,0.35],[8.15,-0.55],[8.35,-0.1],[8.55,-1.0],[8.75,0.3],[8.95,-0.75],[9.15,0.3],
  [6.05,-1.05],[6.25,-0.45],[6.45,-0.95],[6.65,0.0],[6.85,-0.8],[7.05,-0.35],[7.25,0.15],[7.45,-0.75],[7.65,-0.05],[7.85,-0.3],[8.05,-1.05],[8.25,0.5],[8.45,-1.25],[8.65,-0.6],[8.85,0.6],[9.05,-0.5],
  [7.1,0.05],[7.3,-0.85],[7.5,0.95],[7.7,0.5],[7.9,-0.1],[8.1,0.15],[8.3,0.8],[8.5,0.05],[8.7,-0.25],[8.9,0.9],
  [5.62,-0.8],[5.72,-1.15],[5.82,-0.6],[5.92,-0.2],[6.02,-0.6],[6.12,-1.1],[6.22,-0.45],[6.32,-0.8],[6.42,-1.5],[6.52,-0.25],
  [6.62,-1.35],[6.72,0.35],[6.82,-0.35],[6.92,-1.55],[7.02,-0.7],[7.12,0.25],[7.22,-1.4],[7.32,-0.1],[7.42,0.7],[7.52,-0.95],
  [7.62,0.45],[7.72,-1.25],[7.82,0.05],[7.92,-0.6],[8.02,1.0],[8.12,-1.2],[8.22,0.4],[8.32,-0.25],[8.42,1.1],[8.52,-0.6],
  [5.98,-0.4],[6.18,-0.9],[6.38,-0.35],[6.58,-1.05],[6.78,-1.1],[6.98,0.05],[7.18,-0.85],[7.38,-1.2],[7.58,-0.35],[7.78,0.15],
  [7.98,-1.2],[8.18,-0.1],[8.38,-0.6],[8.58,0.5],[8.78,-0.9],[8.98,0.25],[9.18,-0.65],[9.38,0.5]
];

//titles, {..} marks the small subscript
const panels = [
  { letter: 'A', pts: ptsA, lines: linesA, labels: labelsA, ci: ciA, zeroEnd: 16.45,
    yTitle: 'Actual HbA1c - predicted HbA1c by MEAN{FCG} and MEAN{PCG}',
    xTitle: 'Mean of actual HbA1c and predicted HbA1c by MEAN{FCG} and MEAN{PCG}',
    x4: 86, x18: 662, y8: 41, ym6: 449, letterPos: [0, 23], yTitlePos: [28, 268], xTitlePos: [350, 503],
    xSize: 14.9, ySize: 15 },
  { letter: 'B', pts: ptsB, lines: linesB, labels: labelsB, ci: ciB, zeroEnd: 15.9,
    yTitle: 'Actual HbA1c - predicted HbA1c by MEAN{FCG}',
    xTitle: 'Mean of actual HbA1c and predicted HbA1c by MEAN{FCG}',
    x4: 826, x18: 1388, y8: 42, ym6: 451, letterPos: [726, 23], yTitlePos: [752, 252], xTitlePos: [1098, 504],
    xSize: 14.5, ySize: 14.6 },
  { letter: 'C', pts: ptsC, lines: linesC, labels: labelsC, ci: ciC, zeroEnd: 16.25,
    yTitle: 'Actual HbA1c - predicted HbA1c by MEAN{PCG}',
    xTitle: 'Mean of actual HbA1c and predicted HbA1c by MEAN{PCG}',
    x4: 74, x18: 648, y8: 600, ym6: 1007, letterPos: [1, 582], yTitlePos: [17, 802], xTitlePos: [352, 1062],
    xSize: 15.3, ySize: 16 },
  { letter: 'D', pts: ptsD, lines: linesD, labels: labelsD, ci: ciD, zeroEnd: 15.3,
    yTitle: 'Actual HbA1c - predicted HbA1c by FPG',
    xTitle: 'Mean of actual HbA1c and predicted HbA1c by FPG',
    x4: 807, x18: 1386, y8: 616, ym6: 1007, letterPos: [726, 582], yTitlePos: [752, 809], xTitlePos: [1098, 1060],
    xSize: 14.7, ySize: 14.5 },
  { letter: 'E', pts: ptsE, lines: linesE, labels: labelsE, ci: ciE, zeroEnd: 14.2,
    yTitle: 'Actual HbA1c - predicted HbA1c by 2-h PPG',
    xTitle: 'Mean of actual HbA1c and predicted HbA1c by 2-h PPG',
    x4: 451, x18: 1030, y8: 1112, ym6: 1503, letterPos: [372, 1117], yTitlePos: [396, 1305], xTitlePos: [743, 1556],
    xSize: 14.8, ySize: 14.5 }
];

//layout numbers above were read at a slightly smaller scale
const root = d3.select('#fig').append('g').attr('transform', 'scale(1.0095)');

//write a title with small subscripts into a text element
const addTitle = (sel, str, size) => {
  const parts = str.split(/(\{[A-Z]+\})/).filter(s => s.length);
  parts.forEach(s => {
    if (s[0] === '{') {
      sel.append('tspan')
        .attr('font-size', size * 0.5)
        .attr('dy', 2)
        .text(s.slice(1, -1));
    } else {
      sel.append('tspan')
        .attr('dy', sel.selectAll('tspan').size() ? -2 : 0)
        .text(s);
    }
  });
};

const drawPanel = p => {
  const x = d3.scaleLinear().domain([4, 18]).range([p.x4, p.x18]);
  const y = d3.scaleLinear().domain([-6, 8]).range([p.ym6, p.y8]);
  const g = root.append('g');
  const left = x(3.7);
  const bottom = y(-6.42);

  //points first, lines go over them
  g.append('g')
    .selectAll('circle')
    .data(p.pts)
    .enter()
    .append('circle')
    .attr('cx', d => x(d[0]))
    .attr('cy', d => y(d[1]))
    .attr('r', 4.5)
    .attr('fill', 'none')
    .attr('stroke', '#ee8a48')
    .attr('stroke-width', 1);

  //axes, ticks point inwards; plain hyphen for negatives
  const fmt = d => String(d);
  const xMaj = g.append('g')
    .attr('transform', `translate(0,${bottom})`)
    .call(d3.axisBottom(x).tickValues(xTicks).tickSize(-8).tickPadding(8).tickFormat(fmt));
  const xMin = g.append('g')
    .attr('transform', `translate(0,${bottom})`)
    .call(d3.axisBottom(x).tickValues(xMinor).tickSize(-4).tickFormat(''));
  const yMaj = g.append('g')
    .attr('transform', `translate(${left},0)`)
    .call(d3.axisLeft(y).tickValues(yTicks).tickSize(-9).tickPadding(6).tickFormat(fmt));
  const yMin = g.append('g')
    .attr('transform', `translate(${left},0)`)
    .call(d3.axisLeft(y).tickValues(yMinor).tickSize(-4).tickFormat(''));
  [xMaj, xMin, yMaj, yMin].forEach(a => {
    a.select('.domain').remove();
    a.selectAll('line').attr('stroke', '#222').attr('stroke-width', 1.2);
    a.selectAll('text')
      .attr('font-size', 14)
      .attr('font-family', "'Liberation Sans', Arial, sans-serif")
      .attr('fill', '#222');
  });

  g.append('path')
    .attr('d', `M${left},${y(8.42)}V${bottom}H${x(18.3)}`)
    .attr('fill', 'none')
    .attr('stroke', '#111')
    .attr('stroke-width', 2);

  //line of equality, dotted
  g.append('line')
    .attr('x1', x(4)).attr('x2', x(p.zeroEnd))
    .attr('y1', y(0)).attr('y2', y(0))
    .attr('stroke', '#c9783a')
    .attr('stroke-width', 1.5)
    .attr('stroke-dasharray', '1.2,1.8');

  //limits of agreement and mean
  g.selectAll('.ref')
    .data(p.lines)
    .enter()
    .append('line')
    .attr('x1', x(4)).attr('x2', x(18))
    .attr('y1', d => y(d)).attr('y2', d => y(d))
    .attr('stroke', (d, i) => i === 1 ? '#2a62a8' : '#a3161b')
    .attr('stroke-width', (d, i) => i === 1 ? 2 : 1.8)
    .attr('stroke-dasharray', (d, i) => i === 1 ? null : '6,3.5');

  g.selectAll('.refname')
    .data(p.lines)
    .enter()
    .append('text')
    .attr('x', x(18) - 3)
    .attr('y', d => y(d) - 5)
    .attr('text-anchor', 'end')
    .attr('font-size', 14)
    .text((d, i) => lineNames[i]);

  g.selectAll('.refval')
    .data(p.lines)
    .enter()
    .append('text')
    .attr('x', x(18) - 3)
    .attr('y', d => y(d) + 18)
    .attr('text-anchor', 'end')
    .attr('font-size', 14)
    .text((d, i) => p.labels[i]);

  //confidence interval of the mean
  const ciTop = Math.min(y(p.ci[1]), y(p.lines[1]) - 2.5);
  const ciBot = Math.max(y(p.ci[0]), y(p.lines[1]) + 2.5);
  g.append('rect')
    .attr('x', x(4.45))
    .attr('y', ciTop)
    .attr('width', x(4.95) - x(4.45))
    .attr('height', ciBot - ciTop)
    .attr('fill', '#2b8a2b')
    .attr('stroke', '#145214')
    .attr('stroke-width', 1);
  g.append('line')
    .attr('x1', x(4.7)).attr('x2', x(4.7))
    .attr('y1', ciTop).attr('y2', ciBot)
    .attr('stroke', '#0c3d0c')
    .attr('stroke-width', 1);

  //panel letter and titles
  g.append('text')
    .attr('x', p.letterPos[0])
    .attr('y', p.letterPos[1])
    .attr('font-size', 25)
    .attr('font-weight', 'bold')
    .attr('fill', '#111')
    .text(p.letter);

  const xt = g.append('text')
    .attr('x', p.xTitlePos[0])
    .attr('y', p.xTitlePos[1])
    .attr('text-anchor', 'middle')
    .attr('font-size', p.xSize);
  addTitle(xt, p.xTitle, p.xSize);

  const yt = g.append('text')
    .attr('transform', `translate(${p.yTitlePos[0] + 5},${p.yTitlePos[1]}) rotate(-90)`)
    .attr('text-anchor', 'middle')
    .attr('font-size', p.ySize);
  addTitle(yt, p.yTitle, p.ySize);
};

panels.forEach(drawPanel);
</script>
</body>
</html>
